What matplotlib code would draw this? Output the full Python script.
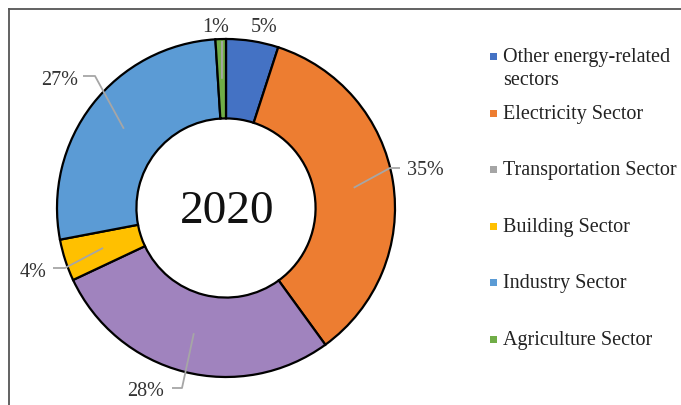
import numpy as np
import matplotlib
matplotlib.use("Agg")
import matplotlib.pyplot as plt
from matplotlib.patches import Rectangle
from matplotlib.lines import Line2D

# Sector shares of emissions, 2020 (percent), clockwise from 12 o'clock
sectors = ["Other energy-related\nsectors", "Electricity Sector", "Transportation Sector",
           "Building Sector", "Industry Sector", "Agriculture Sector"]
shares = [5, 35, 28, 4, 27, 1]
wedge_colors = ["#4472C4", "#ED7D31", "#A083BE", "#FFC000", "#5B9BD5", "#70AD47"]
legend_colors = ["#4472C4", "#ED7D31", "#A5A5A5", "#FFC000", "#5B9BD5", "#70AD47"]
center_label = "2020"

W, H = 681, 405
fig = plt.figure(figsize=(W / 100, H / 100), dpi=100)
ax = fig.add_axes([0, 0, 1, 1])

serif = ["Liberation Serif", "DejaVu Serif"]
cx, cy, R = 226, H - 208, 169
ring = 0.47 * R

wedges, _ = ax.pie(shares, colors=wedge_colors, startangle=90, counterclock=False,
                   radius=R, center=(cx, cy),
                   wedgeprops=dict(width=ring, edgecolor="black", linewidth=1.6))
ax.set_xlim(0, W)
ax.set_ylim(0, H)
ax.set_aspect("equal")
ax.axis("off")

ax.text(cx + 1, H - 223, center_label, ha="center", va="baseline", fontsize=34,
        family=serif, color="#111111")

# Data labels: leader elbow, end of leader, text anchor (x, baseline y), alignment
label_layout = [
    (None, None, (264, 32), "center"),
    ((390, 168), (400, 168), (407, 175), "left"),
    ((182, 388), (172, 388), (164, 396), "right"),
    ((65, 268), (53, 268), (46, 277), "right"),
    ((95, 76), (83, 76), (78, 85), "right"),
    ((222, 41), None, (216, 32), "center"),
]
r_mid = R - ring / 2
for w, val, (elbow, end, (tx, ty), ha) in zip(wedges, shares, label_layout):
    mid = np.deg2rad((w.theta1 + w.theta2) / 2)
    px, py = cx + r_mid * np.cos(mid), cy + r_mid * np.sin(mid)
    if elbow is not None:
        xs, ys = [px, elbow[0]], [py, H - elbow[1]]
        if end is not None:
            xs.append(end[0])
            ys.append(H - end[1])
        ax.plot(xs, ys, color="#A6A6A6", lw=1.3, solid_capstyle="butt", zorder=3)
    ax.text(tx, H - ty, f"{val}%", ha=ha, va="baseline", fontsize=14.5,
            family=serif, color="#333333")

# Legend: one square swatch and label per sector (baseline y of first text line)
legend_baselines = [62, 119, 175, 232, 288, 345]
for name, col, by in zip(sectors, legend_colors, legend_baselines):
    ax.add_patch(Rectangle((490, H - by + 2.5), 7, 7, facecolor=col, edgecolor="none"))
    ax.text(503, H - by, name.split("\n")[0], ha="left", va="baseline", fontsize=14.5,
            family=serif, color="#222222")
    for k, extra in enumerate(name.split("\n")[1:], start=1):
        ax.text(503, H - by - 23 * k, extra, ha="left", va="baseline", fontsize=14.5,
                family=serif, color="#222222")

# Frame edges along top and left
fig.add_artist(Line2D([8.5 / W, 1], [1 - 8.5 / H, 1 - 8.5 / H], color="#555555", lw=1.3))
fig.add_artist(Line2D([8.5 / W, 8.5 / W], [0, 1 - 8.5 / H], color="#555555", lw=1.3))

fig.savefig("out.png", dpi=100, facecolor="white")
